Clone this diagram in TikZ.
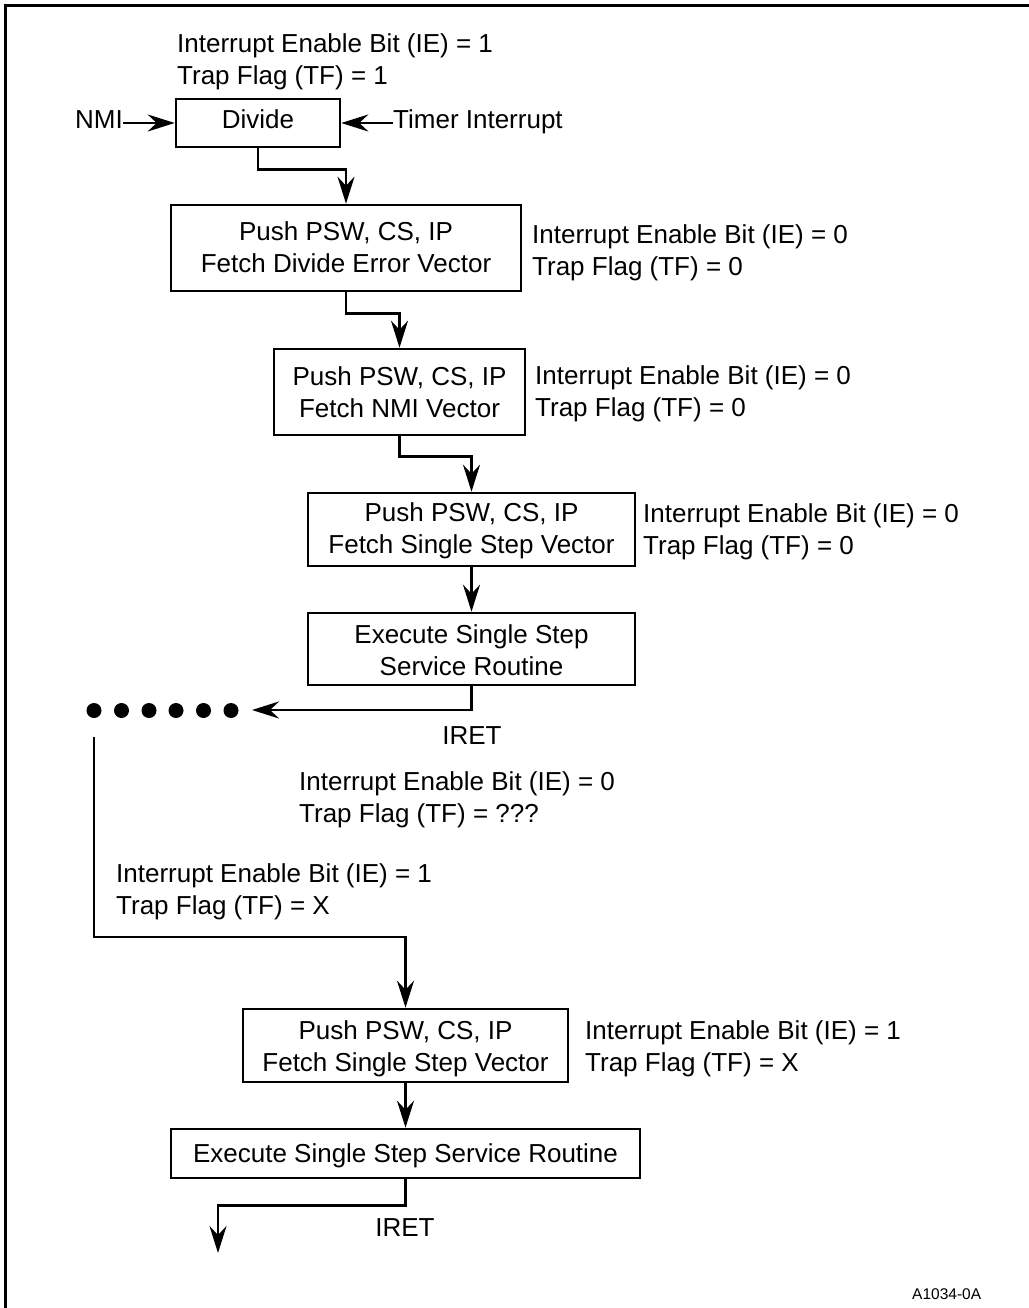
\documentclass[tikz,border=0pt]{standalone}
\usepackage{fontspec}
\setmainfont{Liberation Sans}
\usetikzlibrary{arrows.meta}
\begin{document}
\begin{tikzpicture}[x=1pt,y=-1pt,
  every node/.style={inner sep=0pt, font=\fontsize{26}{31}\selectfont},
  box/.style={draw, line width=2.6pt, rectangle},
  lbl/.style={anchor=base west},
  ctr/.style={anchor=base},
  arr/.style={line width=2.6pt, -{Stealth[length=27pt,width=17pt,inset=9pt]}},
  ln/.style={line width=2.6pt},
  dot/.style={circle, fill, minimum size=15pt, inner sep=0pt}]
\useasboundingbox (0,0) rectangle (1028,1308);
% frame (top and left edges visible)
\draw[line width=3pt] (5.3,1312) -- (5.3,6) -- (1032,6);

% top labels
\node[lbl] (top1) at (177,53) {Interrupt Enable Bit (IE) = 1};
\node[lbl] (top2) at (177,85) {Trap Flag (TF) = 1};

% boxes
\node[box, minimum width=164pt, minimum height=48pt] (div) at (258,123) {};
\node[ctr] (divt) at (258,129) {Divide};
\node[anchor=base east] (nmi) at (123,129) {NMI};
\node[anchor=base west] (timer) at (393,129) {Timer Interrupt};

\node[box, minimum width=350pt, minimum height=86pt] (b1) at (346,248) {};
\node[ctr] (b1a) at (346,240) {Push PSW, CS, IP};
\node[ctr] (b1b) at (346,272) {Fetch Divide Error Vector};
\node[lbl] (l1a) at (532,243) {Interrupt Enable Bit (IE) = 0};
\node[lbl] (l1b) at (532,275) {Trap Flag (TF) = 0};

\node[box, minimum width=251pt, minimum height=86pt] (b2) at (399.5,392) {};
\node[ctr] (b2a) at (399.5,385) {Push PSW, CS, IP};
\node[ctr] (b2b) at (399.5,417) {Fetch NMI Vector};
\node[lbl] (l2a) at (535,384) {Interrupt Enable Bit (IE) = 0};
\node[lbl] (l2b) at (535,416) {Trap Flag (TF) = 0};

\node[box, minimum width=327pt, minimum height=73pt] (b3) at (471.5,529.5) {};
\node[ctr] (b3a) at (471.5,521) {Push PSW, CS, IP};
\node[ctr] (b3b) at (471.5,553) {Fetch Single Step Vector};
\node[lbl] (l3a) at (643,522) {Interrupt Enable Bit (IE) = 0};
\node[lbl] (l3b) at (643,554) {Trap Flag (TF) = 0};

\node[box, minimum width=327pt, minimum height=72pt] (b4) at (471.5,649) {};
\node[ctr] (b4a) at (471.5,643) {Execute Single Step};
\node[ctr] (b4b) at (471.5,675) {Service Routine};
\node[ctr] (iret1) at (472,744) {IRET};

% dots
\foreach \i/\x in {1/94,2/121.5,3/149,4/176,5/203.5,6/231}
  \node[dot] (d\i) at (\x,710.5) {};

\node[lbl] (ma) at (299,790) {Interrupt Enable Bit (IE) = 0};
\node[lbl] (mb) at (299,822) {Trap Flag (TF) = ???};
\node[lbl] (xa) at (116,882) {Interrupt Enable Bit (IE) = 1};
\node[lbl] (xb) at (116,914) {Trap Flag (TF) = X};

\node[box, minimum width=325pt, minimum height=73pt] (b5) at (405.5,1045.5) {};
\node[ctr] (b5a) at (405.5,1039) {Push PSW, CS, IP};
\node[ctr] (b5b) at (405.5,1071) {Fetch Single Step Vector};
\node[lbl] (l5a) at (585,1039) {Interrupt Enable Bit (IE) = 1};
\node[lbl] (l5b) at (585,1071) {Trap Flag (TF) = X};

\node[box, minimum width=469pt, minimum height=49pt] (b6) at (405.5,1153.5) {};
\node[ctr] (b6a) at (405.5,1162) {Execute Single Step Service Routine};
\node[ctr] (iret2) at (405,1236) {IRET};

\node[lbl, font=\fontsize{15.5}{18}\selectfont] (code) at (912,1299) {A1034-0A};

% connectors
\coordinate (dtip) at (252,710);
\coordinate (lstart) at (94,737);
\coordinate (lbend) at (94,937);
\coordinate (endtip) at (218,1253);

\draw[arr] (nmi.east |- div) -- (div.west);
\draw[arr] (timer.west |- div) -- (div.east);
\draw[arr] (div.south) -- ++(0,21) -| (b1.north);
\draw[arr] (b1.south) -- ++(0,21) -| (b2.north);
\draw[arr] (b2.south) -- ++(0,20) -| (b3.north);
\draw[arr] (b3.south) -- (b4.north);
\draw[arr] (b4.south) |- (dtip);
\draw[arr] (lstart) -- (lbend) -| (b5.north);
\draw[arr] (b5.south) -- (b6.north);
\draw[arr] (b6.south) -- ++(0,26) -| (endtip);
\end{tikzpicture}
\end{document}
